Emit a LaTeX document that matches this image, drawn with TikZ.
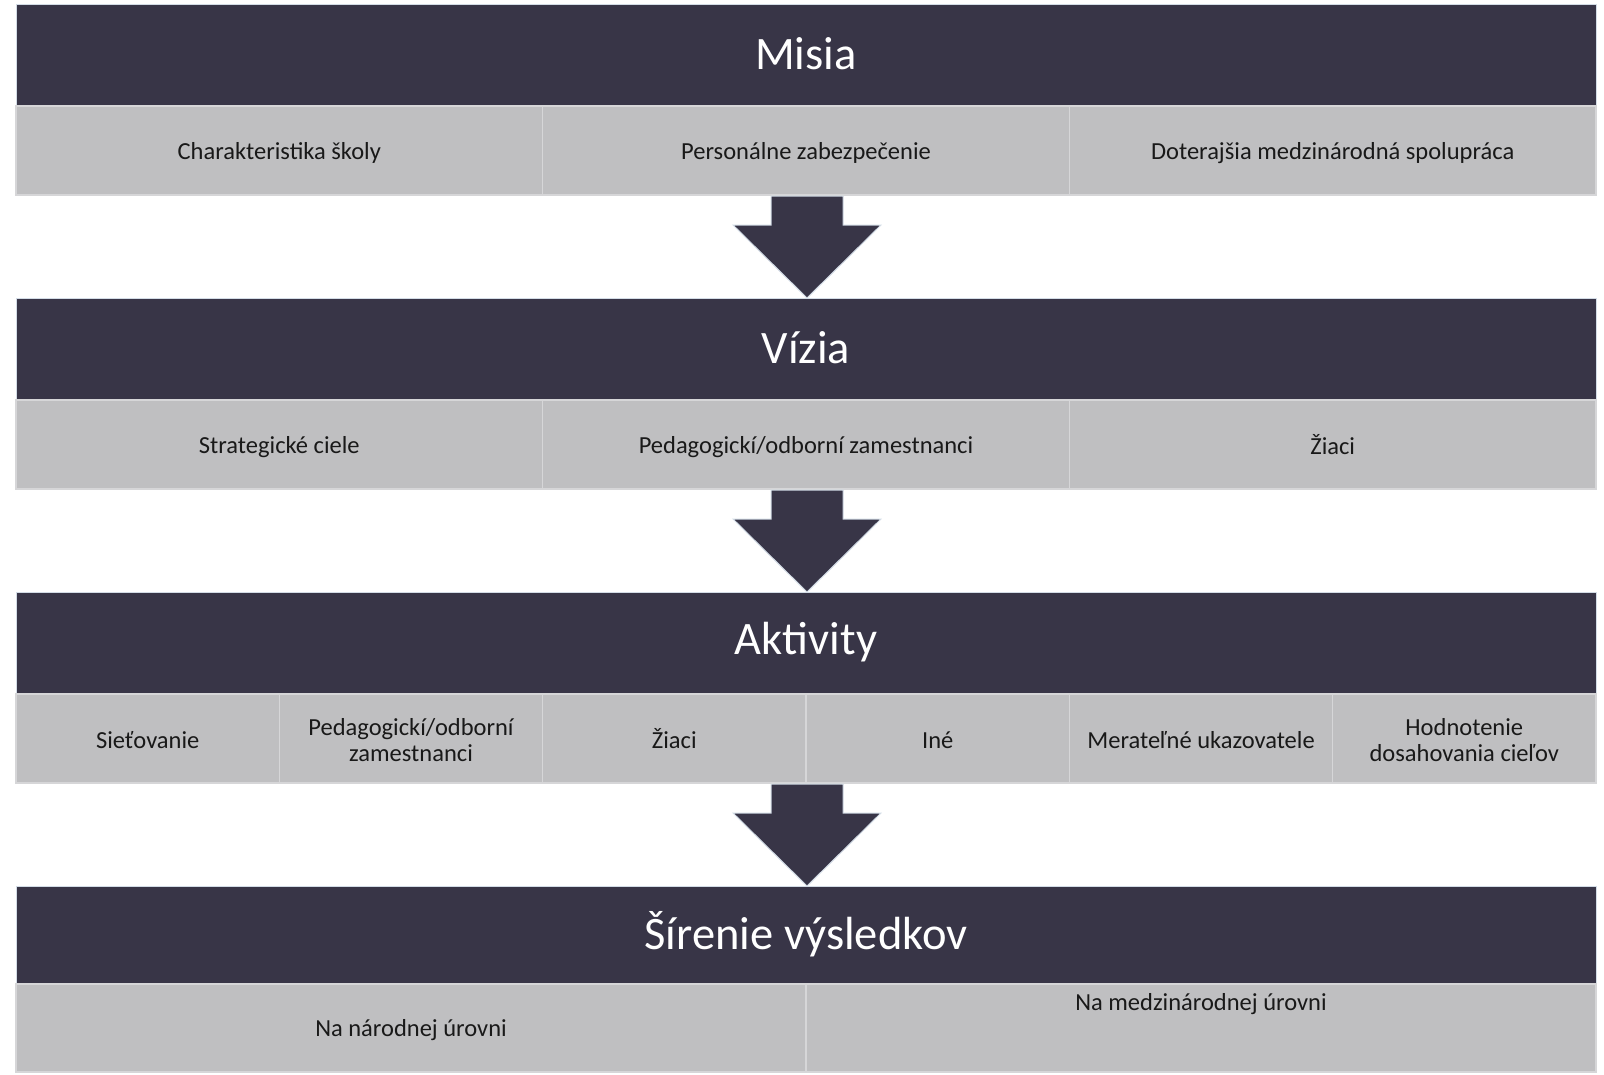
\documentclass[tikz,border=0pt]{standalone}
\usepackage{fontspec}
\setmainfont{Carlito}
\definecolor{darkband}{HTML}{383547}
\definecolor{cellgray}{HTML}{BFBFC1}
\definecolor{edgeblue}{HTML}{D3DCE6}
\definecolor{cellline}{HTML}{D6D6D8}
\tikzset{
  band/.style={fill=darkband, draw=edgeblue, line width=1pt},
  bandtext/.style={text=white, font=\fontsize{46.5}{52}\selectfont, anchor=center},
  cell/.style={fill=cellgray, draw=cellline, line width=1.5pt},
  celltext/.style={text=black!90, font=\fontsize{24.5}{26}\selectfont, align=center, anchor=center},
  downarrow/.style={fill=darkband, draw=edgeblue, line width=1pt, line join=miter}
}
\begin{document}
\begin{tikzpicture}[x=1pt,y=-1pt]
\useasboundingbox (0,0) rectangle (1604,1074);
\def\L{16}\def\R{1596}
% ===== Misia
\draw[band] (\L,4) rectangle (\R,106);
\node[bandtext] (t1) at (806,54) {Misia};
\draw[cell] (16,106) rectangle (542.7,195);
\draw[cell] (542.7,106) rectangle (1069.3,195);
\draw[cell] (1069.3,106) rectangle (1596,195);
\node[celltext] (c11) at (279.3,153) {Charakteristika školy};
\node[celltext] (c12) at (806,153) {Personálne zabezpečenie};
\node[celltext] (c13) at (1332.7,153) {Doterajšia medzinárodná spolupráca};
% arrow 1
\draw[downarrow] (771,196) -- (843,196) -- (843,225) -- (881,225) -- (807,298) -- (733,225) -- (771,225) -- cycle;
% ===== Vizia
\draw[band] (\L,298) rectangle (\R,400);
\node[bandtext] (t2) at (806,348) {Vízia};
\draw[cell] (16,400) rectangle (542.7,489);
\draw[cell] (542.7,400) rectangle (1069.3,489);
\draw[cell] (1069.3,400) rectangle (1596,489);
\node[celltext] (c21) at (279.3,447) {Strategické ciele};
\node[celltext] (c22) at (806,447) {Pedagogickí/odborní zamestnanci};
\node[celltext] (c23) at (1332.7,445) {Žiaci};
% arrow 2
\draw[downarrow] (771,490) -- (843,490) -- (843,519) -- (881,519) -- (807,592) -- (733,519) -- (771,519) -- cycle;
% ===== Aktivity
\draw[band] (\L,592) rectangle (\R,694);
\node[bandtext] (t3) at (806,642) {Aktivity};
\draw[cell] (16,694) rectangle (279.3,783);
\draw[cell] (279.3,694) rectangle (542.7,783);
\draw[cell] (542.7,694) rectangle (806,783);
\draw[cell] (806,694) rectangle (1069.3,783);
\draw[cell] (1069.3,694) rectangle (1332.7,783);
\draw[cell] (1332.7,694) rectangle (1596,783);
\node[celltext] (c31) at (147.7,740) {Sieťovanie};
\node[celltext] (c32) at (411,740) {Pedagogickí/odborní\\zamestnanci};
\node[celltext] (c33) at (674.3,739) {Žiaci};
\node[celltext] (c34) at (937.7,740) {Iné};
\node[celltext] (c35) at (1201,740) {Merateľné ukazovatele};
\node[celltext] (c36) at (1464.3,740) {Hodnotenie\\dosahovania cieľov};
% arrow 3
\draw[downarrow] (771,784) -- (843,784) -- (843,813) -- (881,813) -- (807,886) -- (733,813) -- (771,813) -- cycle;
% ===== Sirenie
\draw[band] (\L,886) rectangle (\R,984);
\node[bandtext] (t4) at (806,934) {Šírenie výsledkov};
\draw[cell] (16,984) rectangle (806,1072);
\draw[cell] (806,984) rectangle (1596,1072);
\node[celltext] (c41) at (411,1030) {Na národnej úrovni};
\node[celltext] (c42) at (1201,1004) {Na medzinárodnej úrovni};
\end{tikzpicture}
\end{document}
